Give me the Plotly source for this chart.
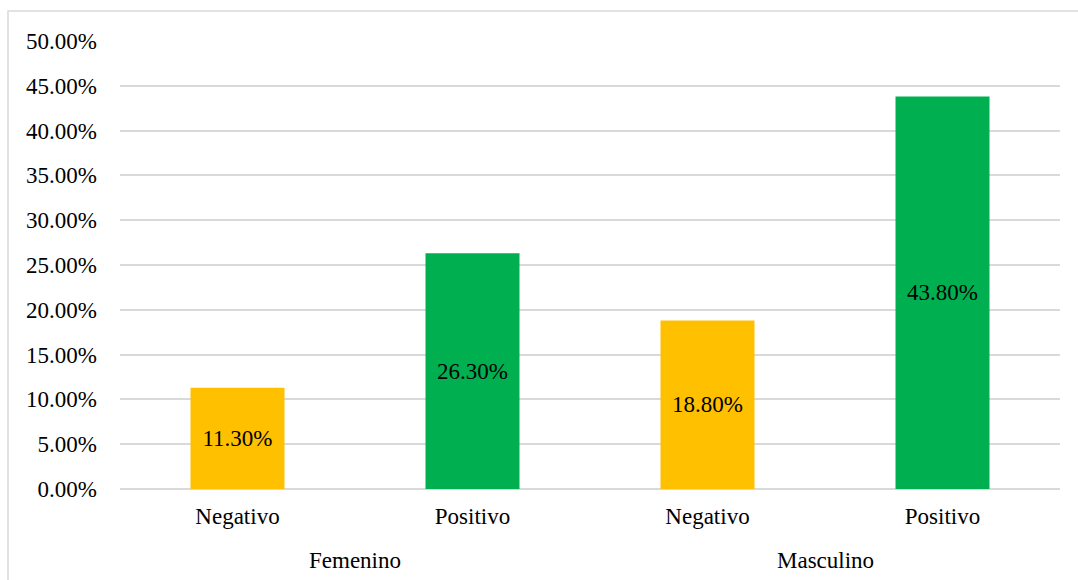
import plotly.graph_objects as go

# Chart data
groups = ["Femenino", "Femenino", "Masculino", "Masculino"]
results = ["Negativo", "Positivo", "Negativo", "Positivo"]
values = [11.30, 26.30, 18.80, 43.80]
y_ticks = [0, 5, 10, 15, 20, 25, 30, 35, 40, 45, 50]

colors = {"Negativo": "#FFC000", "Positivo": "#00B050"}
FONT = "Liberation Serif, Times New Roman, serif"
GRID = "#D9D9D9"
FS = 23

W, H = 1078, 580
ML, MR, MT, MB = 120, 18, 41, 91
PW, PH = W - ML - MR, H - MT - MB

xpos = list(range(len(values)))

fig = go.Figure(
    go.Bar(
        x=xpos,
        y=values,
        marker=dict(color=[colors[r] for r in results], line=dict(width=0)),
        width=0.4,
        text=[f"{v:.2f}%" for v in values],
        textposition="inside",
        insidetextanchor="middle",
        textfont=dict(family=FONT, size=FS, color="#000000"),
        textangle=0,
        cliponaxis=False,
        hoverinfo="skip",
    )
)

# Group labels centred under each pair of bars
group_names = []
for g in groups:
    if g not in group_names:
        group_names.append(g)
for g in group_names:
    idx = [i for i, gg in enumerate(groups) if gg == g]
    fig.add_annotation(
        x=sum(idx) / len(idx), xref="x",
        y=-(560 - (MT + PH)) / PH, yref="paper",
        text=g, showarrow=False,
        font=dict(family=FONT, size=FS, color="#000000"),
        yanchor="middle",
    )

# Outer chart border
fig.add_shape(
    type="rect", xref="paper", yref="paper",
    x0=(8 - ML) / PW, x1=(W + 5 - ML) / PW,
    y0=-(H + 5 - MT - PH) / PH, y1=1 + (MT - 11) / PH,
    line=dict(color=GRID, width=1.5), fillcolor="rgba(0,0,0,0)",
    layer="below",
)

fig.update_layout(
    width=W, height=H,
    margin=dict(l=ML, r=MR, t=MT, b=MB),
    paper_bgcolor="white", plot_bgcolor="white",
    showlegend=False,
    font=dict(family=FONT, size=FS, color="#000000"),
    xaxis=dict(
        tickmode="array", tickvals=xpos, ticktext=results,
        range=[-0.5, len(values) - 0.5],
        showgrid=False, zeroline=False, showline=False, ticks="",
        ticklabelstandoff=11,
        tickfont=dict(family=FONT, size=FS, color="#000000"),
    ),
    yaxis=dict(
        range=[0, 50], tickmode="array", tickvals=y_ticks,
        ticktext=[f"{t:.2f}%" for t in y_ticks],
        showgrid=True, gridcolor=GRID, gridwidth=1.5,
        zeroline=True, zerolinecolor=GRID, zerolinewidth=1.5,
        showline=False, ticks="",
        ticklabelstandoff=22,
        tickfont=dict(family=FONT, size=FS, color="#000000"),
    ),
)

fig.write_html("out.html")
